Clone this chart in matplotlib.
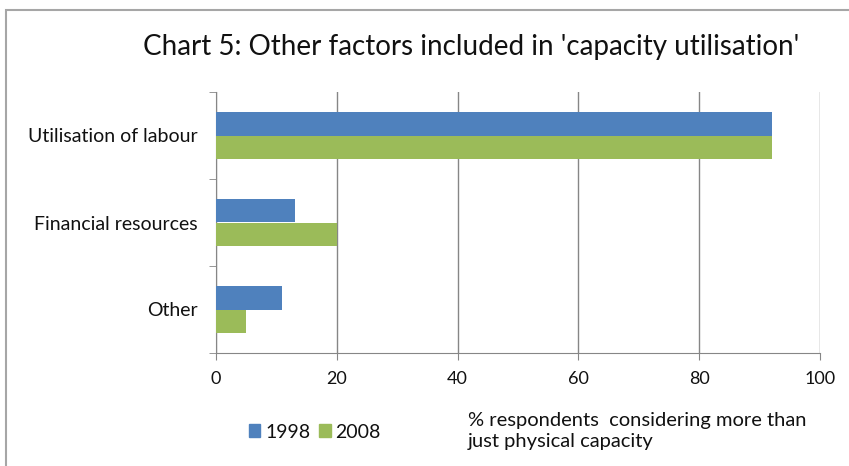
import matplotlib
matplotlib.use("Agg")
import matplotlib.pyplot as plt
from matplotlib.patches import Rectangle, Patch

categories = ["Utilisation of labour", "Financial resources", "Other"]
series_names = ["1998", "2008"]
values_1998 = [92, 13, 11]
values_2008 = [92, 20, 5]
x_ticks = [0, 20, 40, 60, 80, 100]
title = "Chart 5: Other factors included in 'capacity utilisation'"
axis_note = "% respondents  considering more than\njust physical capacity"

blue = "#4F81BD"
green = "#9BBB59"
grid_c = "#868686"

plt.rcParams['font.family'] = ['Lato', 'DejaVu Sans']
plt.rcParams['text.color'] = '#111111'
plt.rcParams['xtick.labelcolor'] = '#111111'
plt.rcParams['ytick.labelcolor'] = '#111111'

W, H = 849, 466
fig = plt.figure(figsize=(W / 100, H / 100), dpi=100)

# chart border
fig.patches.append(Rectangle((6 / W, -0.2), 1.2, 1.2 - 10 / H, transform=fig.transFigure,
                             fill=False, edgecolor="#A6A6A6", linewidth=1.5))

ax = fig.add_axes([216 / W, 1 - 353 / H, (820 - 216) / W, (353 - 92) / H])

ypos = list(range(len(categories)))
bh = 0.275
ax.barh([y - bh / 2 for y in ypos], values_1998, height=bh, color=blue, label=series_names[0], zorder=3)
ax.barh([y + bh / 2 for y in ypos], values_2008, height=bh, color=green, label=series_names[1], zorder=3)

ax.set_xlim(0, 100)
ax.set_ylim(len(categories) - 0.5, -0.5)
ax.set_xticks(x_ticks)
ax.set_xticklabels([str(t) for t in x_ticks], fontsize=13)
ax.set_yticks(ypos)
ax.set_yticklabels(categories, fontsize=14)
ax.set_yticks([y - 0.5 for y in range(len(categories) + 1)], minor=True)
ax.tick_params(axis='y', which='major', length=0, pad=13)
ax.tick_params(axis='y', which='minor', length=5, color=grid_c, direction='out')
ax.tick_params(axis='x', length=5, color=grid_c, direction='out', pad=8)
ax.xaxis.grid(True, color=grid_c, linewidth=1.0, zorder=0)
for s in ["top", "right"]:
    ax.spines[s].set_visible(False)
for s in ["left", "bottom"]:
    ax.spines[s].set_color(grid_c)

fig.text(471 / W, 1 - 47 / H, title, fontsize=20, ha='center', va='center')

handles = [Patch(color=blue), Patch(color=green)]
leg = fig.legend(handles, series_names, loc='center left', bbox_to_anchor=(231 / W, 1 - 432 / H),
                 ncol=2, frameon=False, fontsize=14, handlelength=0.6, handleheight=0.6,
                 handletextpad=0.25, columnspacing=0.45)

fig.text(468 / W, 1 - 431 / H, axis_note, fontsize=14.5, ha='left', va='center', linespacing=1.25)

fig.savefig("out.png", dpi=100)
